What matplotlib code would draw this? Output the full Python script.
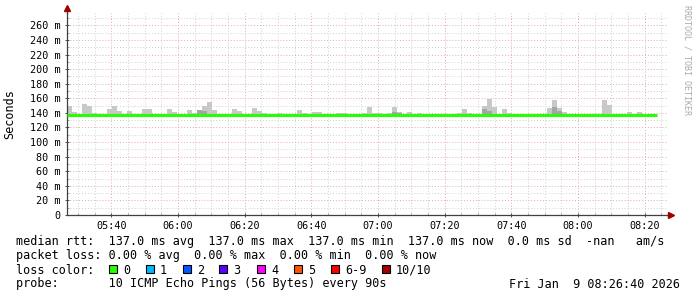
import numpy as np
import pandas as pd
import matplotlib
matplotlib.use('Agg')
import matplotlib.pyplot as plt
import matplotlib.dates as mdates
from matplotlib.patches import Rectangle

# ---------------- data ----------------
start_time = "2026-01-09 05:26:40"
end_time = "2026-01-09 08:26:40"
step_seconds = 90

# highest ping of each 90 s step (ms) - light smoke top
smoke_max = [
    150, 141, 138, 152, 149, 140, 138, 138, 145, 150,
    142, 138, 142, 139, 138, 145, 145, 138, 138, 138,
    145, 141, 138, 138, 144, 140, 144, 150, 155, 144,
    138, 138, 138, 145, 142, 138, 138, 147, 142, 140,
    138, 138, 140, 138, 138, 138, 144, 140, 138, 141,
    141, 138, 138, 138, 140, 140, 138, 138, 138, 140,
    148, 140, 140, 138, 140, 148, 141, 138, 141, 138,
    140, 138, 138, 138, 138, 138, 138, 138, 140, 145,
    140, 138, 138, 149, 159, 148, 138, 145, 140, 138,
    138, 138, 138, 138, 138, 139, 147, 158, 147, 141,
    139, 138, 138, 138, 138, 138, 138, 158, 151, 138,
    139, 138, 141, 138, 141, 138, 138, 139,
]
# darker (inner) smoke top of each step (ms)
smoke_dark = [
    137, 137, 137, 137, 137, 137, 137, 137, 137, 137,
    137, 137, 137, 137, 137, 137, 137, 137, 137, 137,
    137, 137, 137, 137, 137, 137, 144, 143, 137, 137,
    137, 137, 137, 137, 137, 137, 137, 137, 137, 137,
    137, 137, 137, 137, 137, 137, 137, 137, 137, 137,
    137, 137, 137, 137, 137, 137, 137, 137, 137, 137,
    137, 137, 137, 137, 137, 141, 140, 137, 137, 137,
    137, 137, 137, 137, 137, 137, 137, 137, 137, 137,
    137, 137, 137, 146, 142, 137, 137, 137, 137, 137,
    137, 137, 137, 137, 137, 137, 137, 148, 143, 137,
    137, 137, 137, 137, 137, 137, 137, 137, 137, 137,
    137, 137, 137, 137, 137, 137, 137, 137,
]
# median rtt of each step (ms)
median_rtt = [
    137.0, 137.0, 137.0, 137.0, 137.0, 137.0, 137.0, 137.0, 137.0, 137.0,
    137.0, 137.0, 137.0, 137.0, 137.0, 137.0, 137.0, 137.0, 137.0, 137.0,
    137.0, 137.0, 137.0, 137.0, 137.0, 137.0, 137.0, 137.0, 137.0, 137.0,
    137.0, 137.0, 137.0, 137.0, 137.0, 137.0, 137.0, 137.0, 137.0, 137.0,
    137.0, 137.0, 137.0, 137.0, 137.0, 137.0, 137.0, 137.0, 137.0, 137.0,
    137.0, 137.0, 137.0, 137.0, 137.0, 137.0, 137.0, 137.0, 137.0, 137.0,
    137.0, 137.0, 137.0, 137.0, 137.0, 137.0, 137.0, 137.0, 137.0, 137.0,
    137.0, 137.0, 137.0, 137.0, 137.0, 137.0, 137.0, 137.0, 137.0, 137.0,
    137.0, 137.0, 137.0, 137.0, 137.0, 137.0, 137.0, 137.0, 137.0, 137.0,
    137.0, 137.0, 137.0, 137.0, 137.0, 137.0, 137.0, 137.0, 137.0, 137.0,
    137.0, 137.0, 137.0, 137.0, 137.0, 137.0, 137.0, 137.0, 137.0, 137.0,
    137.0, 137.0, 137.0, 137.0, 137.0, 137.0, 137.0, 137.0,
]

y_ticks = [0, 20, 40, 60, 80, 100, 120, 140, 160, 180, 200, 220, 240, 260]
y_tick_labels = ['0', '20 m', '40 m', '60 m', '80 m', '100 m', '120 m', '140 m',
                 '160 m', '180 m', '200 m', '220 m', '240 m', '260 m']

loss_labels = ['0', '1', '2', '3', '4', '5', '6-9', '10/10']
loss_colors = ['#26ff00', '#00b8ff', '#0059ff', '#5e00ff', '#ff00ff', '#ff5500', '#ff0000', '#a10000']

legend_rows = [
    "median rtt:  137.0 ms avg  137.0 ms max  137.0 ms min  137.0 ms now  0.0 ms sd  -nan   am/s",
    "packet loss: 0.00 % avg  0.00 % max  0.00 % min  0.00 % now",
    "loss color:",
    "probe:       10 ICMP Echo Pings (56 Bytes) every 90s",
]
date_text = "Fri Jan  9 08:26:40 2026"

# ---------------- figure ----------------
W, H = 697, 297
fig = plt.figure(figsize=(W / 100, H / 100), dpi=100)
fig.patch.set_facecolor('white')
mono = 'DejaVu Sans Mono'

L, R, T, B = 67, 667, 13, 215
ax = fig.add_axes([L / W, (H - B) / H, (R - L) / W, (B - T) / H])
ax.set_facecolor('white')

t0 = pd.Timestamp(start_time)
t1 = pd.Timestamp(end_time)
n = len(smoke_max)
times = pd.date_range(t0, periods=n, freq=f'{step_seconds}s')
edges = pd.date_range(t0, periods=n + 1, freq=f'{step_seconds}s')
width_days = step_seconds / 86400.0

smax = np.array(smoke_max, float)
sdark = np.array(smoke_dark, float)
med = np.array(median_rtt, float)

ax.bar(times, smax - med, bottom=med, width=width_days, align='edge',
       color='#c8c8c8', linewidth=0, zorder=2)
ax.bar(times, sdark - med, bottom=med, width=width_days, align='edge',
       color='#a4a4a4', linewidth=0, zorder=2.1)
ax.step(edges, np.append(med, med[-1]), where='post', color='#26ff00',
        linewidth=2.2, zorder=3, solid_capstyle='butt')

ax.set_xlim(t0, t1)
ax.set_ylim(0, 277)

ax.xaxis.set_major_locator(mdates.MinuteLocator(byminute=[0, 20, 40]))
ax.xaxis.set_minor_locator(mdates.MinuteLocator(byminute=range(0, 60, 5)))
ax.xaxis.set_major_formatter(mdates.DateFormatter('%H:%M'))
ax.set_yticks(y_ticks)
ax.set_yticklabels(y_tick_labels)
ax.set_yticks(np.arange(10, 277, 20), minor=True)

ax.grid(which='minor', color='#d0d0d0', linestyle=(0, (1, 2)), linewidth=0.7, zorder=1)
ax.grid(which='major', color='#e8a8a8', linestyle=(0, (1, 2)), linewidth=0.7, zorder=1)
ax.set_axisbelow(True)

for lab in ax.get_xticklabels() + ax.get_yticklabels():
    lab.set_family(mono)
    lab.set_fontsize(7.3)
ax.tick_params(which='major', direction='inout', length=3, width=0.7, color='#505050', pad=3)
ax.tick_params(which='minor', direction='in', length=1.5, width=0.5, color='#808080')
ax.tick_params(axis='x', which='major', pad=3)

for s in ['top', 'right']:
    ax.spines[s].set_visible(False)
for s in ['left', 'bottom']:
    ax.spines[s].set_color('#404040')
    ax.spines[s].set_linewidth(0.9)

# axis extensions and arrows
ax.plot([0, 0], [1.0, 1.02], transform=ax.transAxes, color='#404040', lw=0.9, clip_on=False)
ax.plot([1.0, 1.005], [0, 0], transform=ax.transAxes, color='#404040', lw=0.9, clip_on=False)
ax.plot([0], [1.023], transform=ax.transAxes, marker='^', color='#a00000', ms=4, clip_on=False)
ax.plot([1.007], [0], transform=ax.transAxes, marker='>', color='#a00000', ms=4, clip_on=False)

# ---------------- overlay for text ----------------
ov = fig.add_axes([0, 0, 1, 1], facecolor='none')
ov.set_xlim(0, W)
ov.set_ylim(H, 0)
ov.axis('off')

ov.text(10, (T + B) / 2, 'Seconds', rotation=90, ha='center', va='center',
        family=mono, fontsize=8.5, color='black')
ov.text(687, 5, 'RRDTOOL / TOBI OETIKER', rotation=270, ha='center', va='top',
        family=mono, fontsize=6, color='#aaaaaa')

fs = 8.5
row_y = [245.5, 259.5, 273.5, 287.5]
for txt, y in zip(legend_rows, row_y):
    ov.text(16, y, txt, family=mono, fontsize=fs, va='baseline', ha='left', color='black')

box_x = [109, 146, 183, 219, 257, 294, 331, 382]
for bx, lab, col in zip(box_x, loss_labels, loss_colors):
    ov.add_patch(Rectangle((bx, 265), 8, 8, facecolor=col, edgecolor='black', linewidth=0.8))
    ov.text(bx + 14, row_y[2], lab, family=mono, fontsize=fs, va='baseline', ha='left')

ov.text(680, row_y[3], date_text, family=mono, fontsize=fs, va='baseline', ha='right')

fig.savefig('out.png', dpi=100, facecolor='white')
